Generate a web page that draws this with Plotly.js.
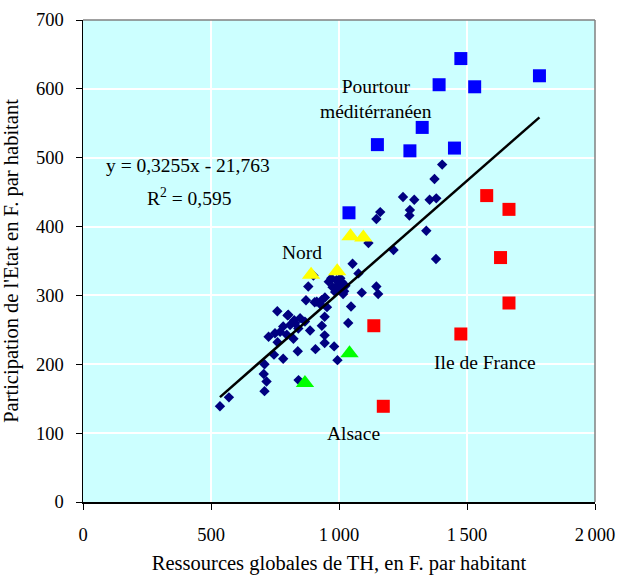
<!DOCTYPE html>
<html>
<head>
<meta charset="utf-8">
<script src="https://cdn.plot.ly/plotly-3.0.1.min.js"></script>
<style>html,body{margin:0;padding:0;background:#fff;}#chart{width:619px;height:576px;}</style>
</head>
<body>
<div id="chart"></div>
<script>
// Diamonds: all other regions
var otherX = [1403,1373,1250,1294,1354,1380,1277,1275,1161,1146,1341,1115,1213,1379,1053,1076,880,1146,1089,1153,1016,
  960,975,990,1000,1010,1025,985,900,871,905,945,925,953,1047,759,944,799,825,1036,809,933,887,725,822,944,944,981,
  839,908,746,782,994,709,706,717,709,842,570,535,802,828,782,770,750,848,841,796,867,760,913,932,
  970,1005,995,1020];
var otherY = [490,469,443,439,439,441,424,416,421,411,394,376,366,353,346,332,313,313,304,302,302,
  320,312,322,310,320,314,305,329,293,290,297,288,283,284,277,269,271,264,260,257,256,249,240,237,242,231,226,
  219,222,214,208,206,200,186,175,161,177,152,139,272,260,255,247,245,267,252,243,262,232,291,293,
  325,325,315,306];
// Pourtour méditerranéen (blue squares)
var pourtourX = [1476,1391,1530,1783,1325,1150,1277,1451,1039];
var pourtourY = [644,606,603,619,544,519,510,514,420];
// Ile de France (red squares)
var idfX = [1577,1664,1631,1664,1476,1136,1173];
var idfY = [445,425,355,289,244,256,139];
// Nord (yellow triangles)
var nordX = [1045,1095,891,993];
var nordY = [386,384,330,335];
// Alsace (green triangles)
var alsaceX = [867,1041];
var alsaceY = [173,216];
// Linear trend y = 0,3255x - 21,763
var trendSlope = 0.3255, trendIntercept = -21.763;
var trendX = [535, 1783];
var trendY = trendX.map(function(x){ return trendSlope*x + trendIntercept; });

var xTicks = [0,500,1000,1500,2000];
var xTickText = ['0','500','1\u2009000','1\u2009500','2\u2009000'];
var yTicks = [0,100,200,300,400,500,600,700];

var serif = 'Liberation Serif, Times New Roman, serif';
var traces = [
  {x: otherX, y: otherY, mode: 'markers', type: 'scatter',
   marker: {symbol: 'diamond', size: 8, color: '#000080'}},
  {x: pourtourX, y: pourtourY, mode: 'markers', type: 'scatter',
   marker: {symbol: 'square', size: 13, color: '#0000FF'}},
  {x: idfX, y: idfY, mode: 'markers', type: 'scatter',
   marker: {symbol: 'square', size: 13, color: '#FF0000'}},
  {x: nordX, y: nordY, mode: 'markers', type: 'scatter',
   marker: {symbol: 'triangle-up', size: 16, color: '#FFFF00'}},
  {x: alsaceX, y: alsaceY, mode: 'markers', type: 'scatter',
   marker: {symbol: 'triangle-up', size: 16, color: '#00FF00'}},
  {x: trendX, y: trendY, mode: 'lines', type: 'scatter',
   line: {color: '#000000', width: 2.5}}
];

var ann = function(x, y, t){ return {x: x, y: y, xref: 'x', yref: 'y', text: t, showarrow: false,
  font: {family: serif, size: 19.5, color: '#000'}}; };

var layout = {
  width: 619, height: 576,
  margin: {l: 83, r: 24, t: 20, b: 74},
  paper_bgcolor: '#ffffff',
  plot_bgcolor: '#CCFFFF',
  showlegend: false,
  font: {family: serif, size: 18, color: '#000'},
  xaxis: {range: [0, 2000], tickvals: xTicks, ticktext: xTickText, showgrid: true, gridcolor: '#ffffff', gridwidth: 2,
    zeroline: false, showline: true, linecolor: '#000', linewidth: 1.5, ticks: 'outside', ticklen: 6, tickcolor: '#000',
    ticklabelstandoff: 9, tickfont: {family: serif, size: 18.5},
    title: {text: 'Ressources globales de TH, en F. par habitant', font: {family: serif, size: 20.5}, standoff: 12}},
  yaxis: {range: [0, 700], tickvals: yTicks, showgrid: true, gridcolor: '#ffffff', gridwidth: 2,
    zeroline: false, showline: true, linecolor: '#000', linewidth: 1.5, ticks: 'outside', ticklen: 6, tickcolor: '#000',
    ticklabelstandoff: 8, tickfont: {family: serif, size: 18.5},
    title: {text: "Participation de l'Etat en F. par habitant", font: {family: serif, size: 20.5}, standoff: 12}},
  shapes: [
    {type: 'line', xref: 'paper', yref: 'paper', x0: 0, x1: 1, y0: 1, y1: 1, line: {color: '#808080', width: 1.5}, layer: 'above'},
    {type: 'line', xref: 'paper', yref: 'paper', x0: 1, x1: 1, y0: 0, y1: 1, line: {color: '#808080', width: 1.5}, layer: 'above'}
  ],
  annotations: [
    ann(412, 489, 'y = 0,3255x - 21,763'),
    ann(413, 443, 'R<sup>2</sup> = 0,595'),
    ann(1146, 585, 'Pourtour<br>méditérranéen'),
    ann(856, 362, 'Nord'),
    ann(1571, 202, 'Ile de France'),
    ann(1056, 100, 'Alsace')
  ]
};
Plotly.newPlot('chart', traces, layout, {staticPlot: true, displayModeBar: false});
</script>
</body>
</html>
